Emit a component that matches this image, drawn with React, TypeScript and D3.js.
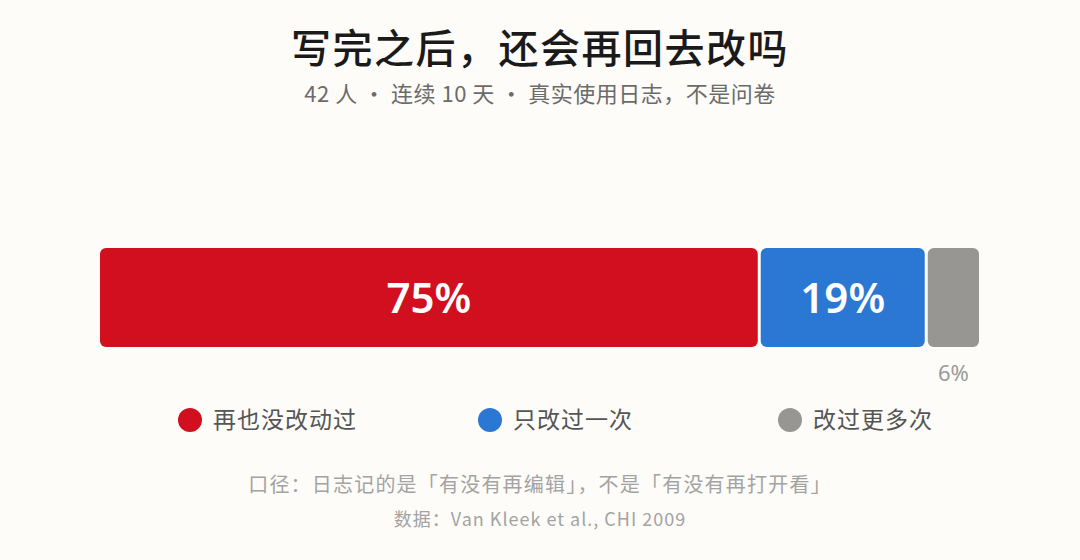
import * as d3 from "d3";

const categories = ["再也没改动过", "只改过一次", "改过更多次"];
const shares = [75, 19, 6];
const colors = ["#d10f1f", "#2b78d4", "#979692"];

const title = "写完之后，还会再回去改吗";
const subtitle = "42 人 · 连续 10 天 · 真实使用日志，不是问卷";
const note = "口径：日志记的是「有没有再编辑」，不是「有没有再打开看」";
const source = "数据：Van Kleek et al., CHI 2009";

const W = 1080;
const H = 560;
const CJK = "'Noto Sans CJK SC', 'Noto Sans', sans-serif";

export default function App() {
  const x = d3.scaleLinear().domain([0, 100]).range([100, 979]);
  const barTop = 248;
  const barH = 99;
  const gap = 1.5;

  const starts = shares.map((_, i) => d3.sum(shares.slice(0, i)));
  const segments = shares.map((v, i) => ({
    cat: categories[i],
    value: v,
    x0: x(starts[i]) + (i > 0 ? gap : 0),
    x1: x(starts[i] + v) - (i < shares.length - 1 ? gap : 0),
    color: colors[i],
  }));

  const legendX = d3
    .scalePoint<string>()
    .domain(categories)
    .range([190, 790]);

  return (
    <div style={{ position: "absolute", left: 0, top: 0 }}>
      <svg width={W} height={H} viewBox={`0 0 ${W} ${H}`}>
        <rect width={W} height={H} fill="#fdfcf8" />

        <text
          x={W / 2}
          y={63}
          textAnchor="middle"
          fontFamily={CJK}
          fontSize={40}
          fontWeight={500}
          fill="#1a1a1a"
          letterSpacing={1.5}
        >
          {title}
        </text>
        <text
          x={W / 2}
          y={102}
          textAnchor="middle"
          fontFamily={CJK}
          fontSize={22}
          fill="#6b6b6b"
          letterSpacing={0.5}
        >
          {subtitle}
        </text>

        {segments.map((s) => (
          <g key={s.cat}>
            <rect
              x={s.x0}
              y={barTop}
              width={s.x1 - s.x0}
              height={barH}
              rx={6}
              fill={s.color}
            />
            {s.value >= 10 ? (
              <text
                x={(s.x0 + s.x1) / 2}
                y={barTop + barH / 2 + 15}
                textAnchor="middle"
                fontFamily="'Noto Sans', sans-serif"
                fontSize={42}
                fontWeight={600}
                fill="#ffffff"
              >
                {s.value}%
              </text>
            ) : (
              <text
                x={(s.x0 + s.x1) / 2}
                y={barTop + barH + 34}
                textAnchor="middle"
                fontFamily="'Noto Sans', sans-serif"
                fontSize={22}
                fill="#9a9a9a"
              >
                {s.value}%
              </text>
            )}
          </g>
        ))}

        {categories.map((c, i) => (
          <g key={c} transform={`translate(${legendX(c)},420)`}>
            <circle r={12} fill={colors[i]} />
            <text
              x={23}
              y={8}
              fontFamily={CJK}
              fontSize={23}
              fill="#555555"
              letterSpacing={1}
            >
              {c}
            </text>
          </g>
        ))}

        <text
          x={W / 2}
          y={492}
          textAnchor="middle"
          fontFamily={CJK}
          fontSize={20}
          fill="#a3a3a3"
          letterSpacing={1.2}
        >
          {note}
        </text>
        <text
          x={W / 2}
          y={526}
          textAnchor="middle"
          fontFamily={CJK}
          fontSize={18}
          fill="#a3a3a3"
          letterSpacing={1}
        >
          {source}
        </text>
      </svg>
    </div>
  );
}
